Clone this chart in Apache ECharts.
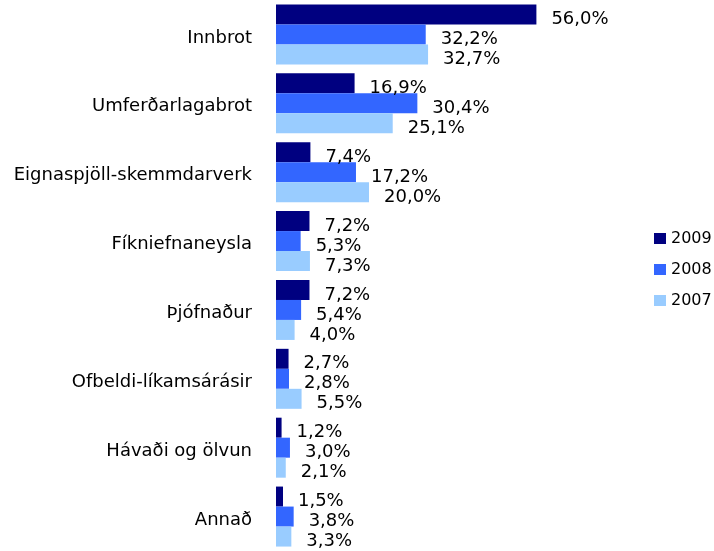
<!DOCTYPE html>
<html lang="is">
<head>
    <meta charset="UTF-8">
    <title>Brot</title>
    <script src="https://cdn.jsdelivr.net/npm/echarts@6/dist/echarts.min.js"></script>
</head>
<body style="margin:0;background:#fff">
<div id="chart" style="width:714px;height:551px"></div>
<script>
    var categories = ['Innbrot', 'Umferðarlagabrot', 'Eignaspjöll-skemmdarverk', 'Fíkniefnaneysla',
        'Þjófnaður', 'Ofbeldi-líkamsárásir', 'Hávaði og ölvun', 'Annað'];
    var years = ['2009', '2008', '2007'];
    var values2009 = [56.0, 16.9, 7.4, 7.2, 7.2, 2.7, 1.2, 1.5];
    var values2008 = [32.2, 30.4, 17.2, 5.3, 5.4, 2.8, 3.0, 3.8];
    var values2007 = [32.7, 25.1, 20.0, 7.3, 4.0, 5.5, 2.1, 3.3];
    var colors = ['#000080', '#3366ff', '#99ccff'];

    var font = '"DejaVu Sans", sans-serif';

    function makeSeries(name, data, color) {
        return {
            name: name,
            type: 'bar',
            data: data,
            barWidth: 20,
            barGap: '0%',
            itemStyle: { color: color },
            label: {
                show: true,
                position: 'right',
                distance: 15,
                offset: [0, 5],
                color: '#000',
                fontFamily: font,
                fontSize: 18,
                formatter: function (p) {
                    return p.value.toFixed(1).replace('.', ',') + '%';
                }
            }
        };
    }

    var myChart = echarts.init(document.getElementById('chart'));
    var option = {
        animation: false,
        backgroundColor: '#fff',
        grid: { left: 276, right: 159, top: 0, bottom: 0 },
        legend: {
            orient: 'vertical',
            left: 654,
            top: 230,
            padding: 0,
            itemWidth: 12,
            itemHeight: 11,
            itemGap: 14,
            icon: 'rect',
            data: years,
            textStyle: { fontFamily: font, fontSize: 16, color: '#000', lineHeight: 17 }
        },
        xAxis: {
            type: 'value',
            min: 0,
            max: 60,
            show: false
        },
        yAxis: {
            type: 'category',
            inverse: true,
            data: categories,
            axisLine: { show: false },
            axisTick: { show: false },
            axisLabel: {
                margin: 24,
                formatter: function (v) {
                    return '{c|' + v + '}';
                },
                rich: {
                    c: {
                        color: '#000',
                        fontFamily: font,
                        fontSize: 18,
                        padding: [7, 0, 0, 0]
                    }
                }
            }
        },
        series: [
            makeSeries(years[0], values2009, colors[0]),
            makeSeries(years[1], values2008, colors[1]),
            makeSeries(years[2], values2007, colors[2])
        ]
    };
    myChart.setOption(option);
</script>
</body>
</html>
